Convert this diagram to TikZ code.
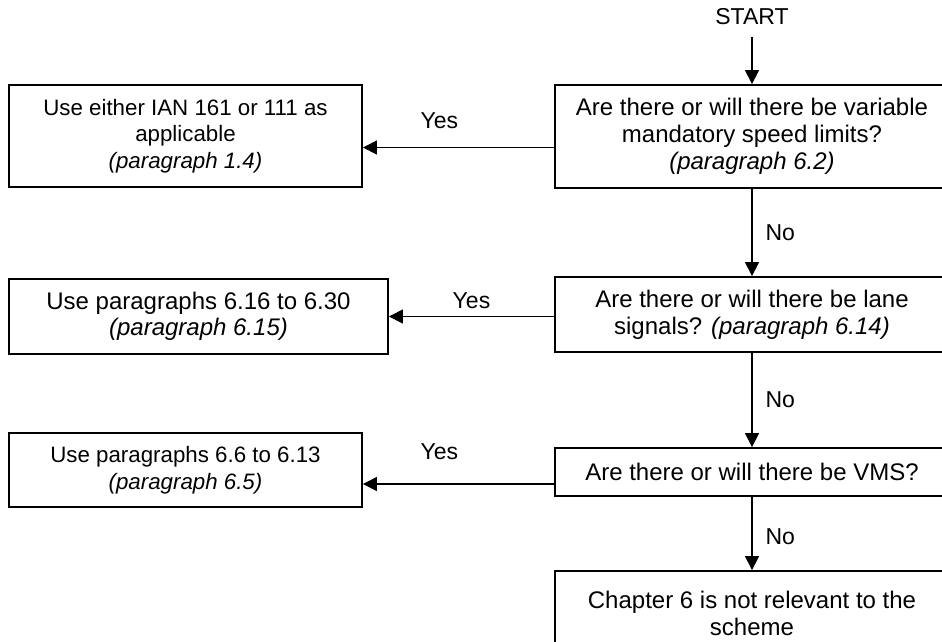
\documentclass[tikz,border=0pt]{standalone}
\usepackage{fontspec}
\setmainfont{Liberation Sans}
\usetikzlibrary{arrows.meta,positioning}

\tikzset{
  qbox/.style={draw, line width=1.8pt, minimum width=394pt, align=center, inner sep=0pt, font=\fontsize{24}{27}\selectfont},
  abox/.style={draw, line width=1.8pt, align=center, inner sep=0pt, font=\fontsize{22.3}{26.5}\selectfont},
  lbl/.style={font=\fontsize{23}{27}\selectfont, inner sep=0pt},
  arr/.style={-{Triangle[width=14pt,length=14pt]}, line width=1.2pt},
}

\begin{document}
\begin{tikzpicture}[x=1pt,y=-1pt]

		\path[use as bounding box, clip] (0,0) rectangle (942,641);
		
		% question column
		\node[lbl] (start) at (752,17) {START};
		
		\node[qbox, minimum height=103pt] (q1) at (752,136.5)
		{Are there or will there be variable\\ mandatory speed limits?\\ \textit{(paragraph 6.2)}};
		
		\node[qbox, minimum height=75pt] (q2) at (752,314.5)
		{Are there or will there be lane\\ signals? \textit{(paragraph 6.14)}};
		
		\node[qbox, minimum height=48pt] (q3) at (752,472)
		{Are there or will there be VMS?};
		
		\node[qbox, minimum height=84pt] (end) at (752,613)
		{Chapter 6 is not relevant to the\\ scheme};
		
		% answer column
		\node[abox, minimum width=353pt, minimum height=102pt] (a1) at (185.5,136)
		{Use either IAN 161 or 111 as\\ applicable\\ \textit{(paragraph 1.4)}};
		
		\node[abox, minimum width=379pt, minimum height=75pt, font=\fontsize{24}{26}\selectfont] (a2) at (198.5,316.5)
		{Use paragraphs 6.16 to 6.30\\ \textit{(paragraph 6.15)}};
		
		\node[abox, minimum width=353pt, minimum height=74pt] (a3) at (185.5,470)
		{Use paragraphs 6.6 to 6.13\\ \textit{(paragraph 6.5)}};
		
		% down the column
		\coordinate (s0) at ([yshift=-12pt]start.south);
		\draw[arr] (s0) -- (q1.north);
		\draw[arr] (q1.south) -- (q2.north) node[lbl, midway, right=13pt] {No};
		\draw[arr] (q2.south) -- (q3.north) node[lbl, midway, right=13pt] {No};
		\draw[arr] (q3.south) -- (end.north) node[lbl, pos=0.55, right=13pt] {No};
		
		% across to the answers
		\coordinate (y1) at ([yshift=-11pt]q1.west);
		\coordinate (y2) at ([yshift=-2pt]q2.west);
		\coordinate (y3) at ([yshift=-12pt]q3.west);
		\draw[arr] (y1) -- (y1 -| a1.east) node[lbl, pos=0.6, above=18.5pt] {Yes};
		\draw[arr] (y2) -- (y2 -| a2.east) node[lbl, midway, above=7pt] {Yes};
		\draw[arr] (y3) -- (y3 -| a3.east) node[lbl, pos=0.6, above=23.5pt] {Yes};
		
	\end{tikzpicture}
\end{document}
